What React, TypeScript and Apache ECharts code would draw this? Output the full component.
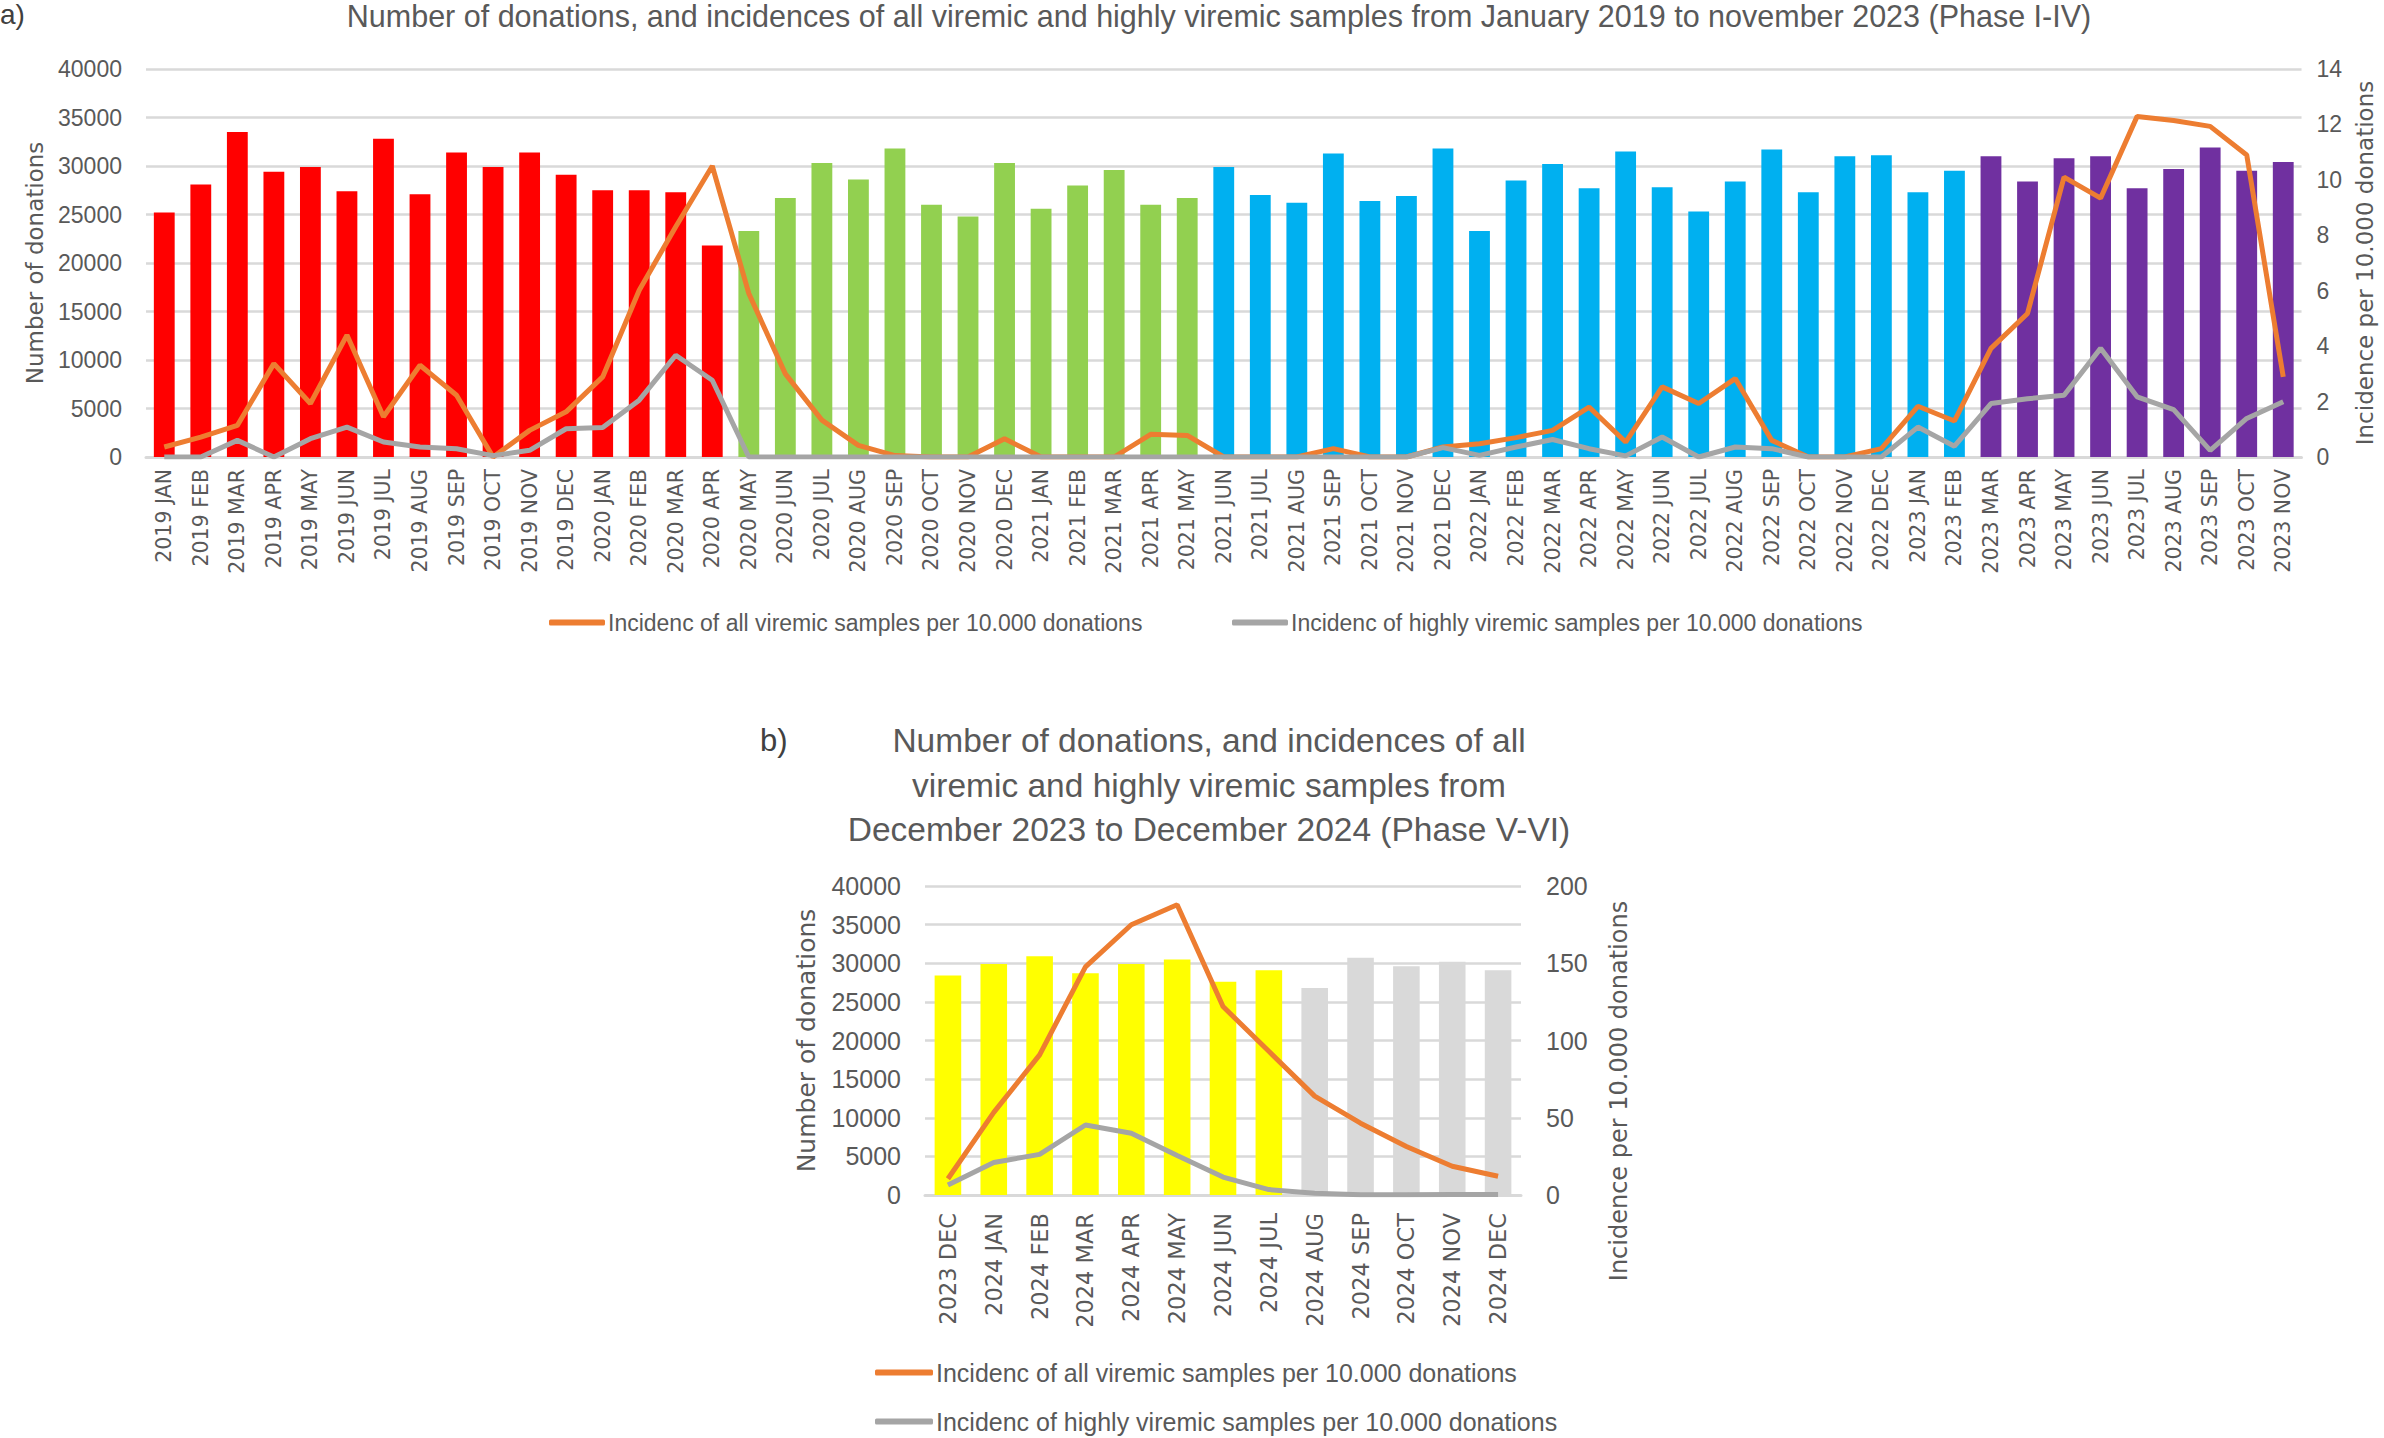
import React, { useEffect, useRef } from 'react';
import * as echarts from 'echarts';

// ---------- Chart a data (January 2019 – November 2023) ----------
const categoriesA = [
  '2019 JAN', '2019 FEB', '2019 MAR', '2019 APR', '2019 MAY', '2019 JUN', '2019 JUL', '2019 AUG', '2019 SEP', '2019 OCT', '2019 NOV', '2019 DEC',
  '2020 JAN', '2020 FEB', '2020 MAR', '2020 APR', '2020 MAY', '2020 JUN', '2020 JUL', '2020 AUG', '2020 SEP', '2020 OCT', '2020 NOV', '2020 DEC',
  '2021 JAN', '2021 FEB', '2021 MAR', '2021 APR', '2021 MAY', '2021 JUN', '2021 JUL', '2021 AUG', '2021 SEP', '2021 OCT', '2021 NOV', '2021 DEC',
  '2022 JAN', '2022 FEB', '2022 MAR', '2022 APR', '2022 MAY', '2022 JUN', '2022 JUL', '2022 AUG', '2022 SEP', '2022 OCT', '2022 NOV', '2022 DEC',
  '2023 JAN', '2023 FEB', '2023 MAR', '2023 APR', '2023 MAY', '2023 JUN', '2023 JUL', '2023 AUG', '2023 SEP', '2023 OCT', '2023 NOV',
];
const donationsA = [
  25200, 28100, 33500, 29400, 29900, 27400, 32800, 27100, 31400, 29900, 31400, 29100,
  27500, 27500, 27300, 21800, 23300, 26700, 30300, 28600, 31800, 26000, 24800, 30300,
  25600, 28000, 29600, 26000, 26700, 29900, 27000, 26200, 31300, 26400, 26900, 31800,
  23300, 28500, 30200, 27700, 31500, 27800, 25300, 28400, 31700, 27300, 31000, 31100,
  27300, 29500, 31000, 28400, 30800, 31000, 27700, 29700, 31900, 29500, 30400,
];
const allViremicA = [
  0.36, 0.72, 1.14, 3.37, 1.93, 4.4, 1.45, 3.31, 2.23, 0.0, 0.96, 1.63,
  2.89, 6.02, 8.31, 10.5, 5.9, 3.0, 1.33, 0.42, 0.05, 0.0, 0.0, 0.66,
  0.0, 0.0, 0.0, 0.82, 0.78, 0.0, 0.0, 0.0, 0.3, 0.0, 0.0, 0.36,
  0.48, 0.7, 0.96, 1.8, 0.54, 2.53, 1.93, 2.83, 0.6, 0.0, 0.0, 0.3,
  1.83, 1.3, 3.92, 5.18, 10.1, 9.34, 12.29, 12.14, 11.93, 10.9, 2.89,
];
const highlyViremicA = [
  0.0, 0.0, 0.6, 0.0, 0.66, 1.08, 0.54, 0.36, 0.3, 0.05, 0.24, 1.02,
  1.06, 2.05, 3.67, 2.77, 0.0, 0.0, 0.0, 0.0, 0.0, 0.0, 0.0, 0.0,
  0.0, 0.0, 0.0, 0.0, 0.0, 0.0, 0.0, 0.0, 0.0, 0.0, 0.0, 0.34,
  0.06, 0.36, 0.63, 0.3, 0.04, 0.72, 0.0, 0.36, 0.3, 0.0, 0.0, 0.0,
  1.08, 0.39, 1.93, 2.1, 2.23, 3.92, 2.17, 1.71, 0.24, 1.39, 1.99,
];
const phaseStartsA = ['2019 JAN', '2020 MAY', '2021 JUN', '2023 MAR'];
const phaseColorsA = ['#FF0000', '#92D050', '#00B0F0', '#7030A0'];

// ---------- Chart b data (December 2023 – December 2024) ----------
const categoriesB = [
  '2023 DEC', '2024 JAN', '2024 FEB', '2024 MAR', '2024 APR', '2024 MAY', '2024 JUN',
  '2024 JUL', '2024 AUG', '2024 SEP', '2024 OCT', '2024 NOV', '2024 DEC',
];
const donationsB = [28400, 29900, 30900, 28700, 29900, 30500, 27600, 29100, 26800, 30700, 29600, 30200, 29100];
const allViremicB = [10.5, 53.5, 90.7, 147.7, 174.9, 187.9, 122, 93, 64, 46.5, 31.4, 18.6, 12.1];
const highlyViremicB = [6.5, 21, 26.3, 45.3, 40, 25.6, 11.6, 3.5, 1.2, 0.2, 0.1, 0.3, 0.3];
const phaseStartsB = ['2023 DEC', '2024 AUG'];
const phaseColorsB = ['#FFFF00', '#D9D9D9'];

// ---------- Texts ----------
const titleA = 'Number of donations, and incidences of all viremic and highly viremic samples from January 2019 to november 2023 (Phase I-IV)';
const titleB = 'Number of donations, and incidences of all\nviremic and highly viremic samples from\nDecember 2023 to December 2024 (Phase V-VI)';
const nameAll = 'Incidenc of all viremic samples per 10.000 donations';
const nameHigh = 'Incidenc of highly viremic samples per 10.000 donations';
const leftAxisName = 'Number of donations';
const rightAxisName = 'Incidence per 10.000 donations';

const ORANGE = '#ED7D31';
const GRAY = '#A5A5A5';
const TEXT = '#595959';
const GRID = '#D9D9D9';
const NUM_FONT = 'Liberation Sans';
const WIDE_FONT = 'DejaVu Sans';

function colorFor(cats: string[], starts: string[], colors: string[], i: number) {
  let c = colors[0];
  for (let k = 0; k < starts.length; k++) {
    if (i >= cats.indexOf(starts[k])) c = colors[k];
  }
  return c;
}

const plain = (v: number) => String(v);

export default function App() {
  const ref = useRef<HTMLDivElement>(null);

  useEffect(() => {
    document.body.style.margin = '0';
    const chart = echarts.init(ref.current!, undefined, { renderer: 'svg' });

    const xAxisCommon = (idx: number, data: string[], fontSize: number, margin: number) => ({
      type: 'category',
      gridIndex: idx,
      data,
      axisTick: { show: false },
      axisLine: { lineStyle: { color: GRID, width: 3 } },
      axisLabel: {
        rotate: 90,
        interval: 0,
        margin,
        color: TEXT,
        fontFamily: WIDE_FONT,
        fontSize,
      },
    });

    const legendItem = (name: string, left: number, top: number, fontSize: number, itemWidth: number) => ({
      data: [name],
      left, top,
      icon: 'roundRect',
      itemWidth, itemHeight: 6,
      textStyle: { color: TEXT, fontFamily: NUM_FONT, fontSize, padding: [0, 0, 0, -2] },
    });

    const option: any = {
      animation: false,
      backgroundColor: '#FFFFFF',
      grid: [
        { left: 146, top: 69, width: 2163, height: 388, containLabel: false },
        { left: 925, top: 886, width: 596, height: 309, containLabel: false },
      ],
      xAxis: [
        xAxisCommon(0, categoriesA, 20.5, 12),
        xAxisCommon(1, categoriesB, 22.5, 18),
      ],
      yAxis: [
        {
          type: 'value', gridIndex: 0, position: 'left', min: 0, max: 40000, interval: 5000,
          axisLine: { show: false }, axisTick: { show: false },
          axisLabel: { color: TEXT, fontFamily: NUM_FONT, fontSize: 23, margin: 24, formatter: plain },
          splitLine: { lineStyle: { color: GRID, width: 2.5 } },
          name: leftAxisName, nameLocation: 'middle', nameGap: 100,
          nameTextStyle: { color: TEXT, fontFamily: WIDE_FONT, fontSize: 23 },
        },
        {
          type: 'value', gridIndex: 0, position: 'right', min: 0, max: 14, interval: 2,
          axisLine: { show: false }, axisTick: { show: false },
          axisLabel: { color: TEXT, fontFamily: NUM_FONT, fontSize: 23, margin: 15, formatter: plain },
          splitLine: { show: false },
          name: rightAxisName, nameLocation: 'middle', nameGap: 48,
          nameTextStyle: { color: TEXT, fontFamily: WIDE_FONT, fontSize: 23 },
        },
        {
          type: 'value', gridIndex: 1, position: 'left', min: 0, max: 40000, interval: 5000,
          axisLine: { show: false }, axisTick: { show: false },
          axisLabel: { color: TEXT, fontFamily: NUM_FONT, fontSize: 25, margin: 24, formatter: plain },
          splitLine: { lineStyle: { color: GRID, width: 2.5 } },
          name: leftAxisName, nameLocation: 'middle', nameGap: 106,
          nameTextStyle: { color: TEXT, fontFamily: WIDE_FONT, fontSize: 25 },
        },
        {
          type: 'value', gridIndex: 1, position: 'right', min: 0, max: 200, interval: 50,
          axisLine: { show: false }, axisTick: { show: false },
          axisLabel: { color: TEXT, fontFamily: NUM_FONT, fontSize: 25, margin: 25, formatter: plain },
          splitLine: { show: false },
        },
      ],
      legend: [
        legendItem(nameAll, 544, 606, 23, 56),
        legendItem(nameHigh, 1227, 606, 23, 56),
        legendItem(nameAll, 870, 1355, 25, 58),
        legendItem(nameHigh, 870, 1404, 25, 58),
      ],
      graphic: [
        { type: 'text', left: 0, top: 0, style: { text: 'a)', fill: '#404040', fontFamily: NUM_FONT, fontSize: 28 } },
        {
          type: 'text', x: 1219, y: 16,
          style: { text: titleA, fill: TEXT, fontFamily: NUM_FONT, fontSize: 30.5, textAlign: 'center', textVerticalAlign: 'middle' },
        },
        { type: 'text', x: 760, y: 740, style: { text: 'b)', fill: '#404040', fontFamily: NUM_FONT, fontSize: 31, textVerticalAlign: 'middle' } },
        {
          type: 'text', x: 1209, y: 785,
          style: { text: titleB, fill: TEXT, fontFamily: NUM_FONT, fontSize: 33.5, lineHeight: 44.5, textAlign: 'center', textVerticalAlign: 'middle' },
        },
        {
          type: 'text', x: 1619, y: 1091, rotation: Math.PI / 2,
          style: { text: rightAxisName, fill: TEXT, fontFamily: WIDE_FONT, fontSize: 24, textAlign: 'center', textVerticalAlign: 'middle' },
        },
      ],
      series: [
        {
          type: 'bar', xAxisIndex: 0, yAxisIndex: 0, barWidth: '57%',
          data: donationsA.map((v, i) => ({ value: v, itemStyle: { color: colorFor(categoriesA, phaseStartsA, phaseColorsA, i) } })),
        },
        {
          name: nameAll, type: 'line', xAxisIndex: 0, yAxisIndex: 1, data: allViremicA,
          symbol: 'none', lineStyle: { color: ORANGE, width: 5 }, itemStyle: { color: ORANGE }, z: 3,
        },
        {
          name: nameHigh, type: 'line', xAxisIndex: 0, yAxisIndex: 1, data: highlyViremicA,
          symbol: 'none', lineStyle: { color: GRAY, width: 5 }, itemStyle: { color: GRAY }, z: 3,
        },
        {
          type: 'bar', xAxisIndex: 1, yAxisIndex: 2, barWidth: '58%',
          data: donationsB.map((v, i) => ({ value: v, itemStyle: { color: colorFor(categoriesB, phaseStartsB, phaseColorsB, i) } })),
        },
        {
          name: nameAll, type: 'line', xAxisIndex: 1, yAxisIndex: 3, data: allViremicB,
          symbol: 'none', lineStyle: { color: ORANGE, width: 5 }, itemStyle: { color: ORANGE }, z: 3,
        },
        {
          name: nameHigh, type: 'line', xAxisIndex: 1, yAxisIndex: 3, data: highlyViremicB,
          symbol: 'none', lineStyle: { color: GRAY, width: 5 }, itemStyle: { color: GRAY }, z: 3,
        },
      ],
    };

    chart.setOption(option);
    return () => chart.dispose();
  }, []);

  return <div ref={ref} style={{ width: 2384, height: 1438 }} />;
}
